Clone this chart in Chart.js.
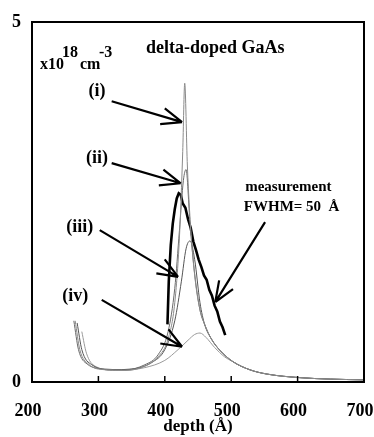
<!DOCTYPE html>
<html lang="en">
<head>
  <meta charset="UTF-8" />
  <title>delta-doped GaAs</title>
  <script src="https://cdn.jsdelivr.net/npm/chart.js"></script>
  <style>
    body { margin: 0; background: #fff; }
    canvas { display: block; }
  </style>
</head>
<body>
  <canvas id="profile" width="374" height="437"></canvas>

  <script>
    // depth in Angstrom, concentration in 1e18 cm^-3
    const depthI  = [265, 272, 285, 310, 340, 370, 390, 405, 415, 422, 427, 430, 434, 440, 446, 453, 460, 470, 483, 503, 528, 554, 604, 650, 700];
    const concI   = [0.85, 0.45, 0.25, 0.17, 0.16, 0.22, 0.35, 0.6, 1.1, 2.0, 3.2, 4.15, 3.0, 2.0, 1.4, 1.0, 0.8, 0.6, 0.44, 0.28, 0.17, 0.11, 0.06, 0.04, 0.03];

    const depthII = [263, 270, 283, 310, 340, 370, 390, 405, 415, 422, 428, 432, 438, 445, 453, 460, 470, 483, 503, 528, 554, 604, 650, 700];
    const concII  = [0.85, 0.45, 0.25, 0.18, 0.17, 0.24, 0.38, 0.7, 1.3, 2.1, 2.8, 2.95, 2.2, 1.5, 1.0, 0.8, 0.6, 0.44, 0.28, 0.17, 0.11, 0.06, 0.04, 0.03];

    const depthIII = [268, 275, 290, 320, 350, 380, 400, 415, 425, 432, 438, 445, 453, 460, 470, 483, 503, 528, 554, 604, 650, 700];
    const concIII  = [0.82, 0.45, 0.24, 0.17, 0.18, 0.27, 0.45, 0.85, 1.4, 1.85, 1.96, 1.7, 1.1, 0.8, 0.6, 0.44, 0.28, 0.17, 0.11, 0.06, 0.04, 0.03];

    const depthIV = [275, 282, 295, 330, 370, 400, 420, 435, 445, 453, 462, 475, 490, 503, 528, 554, 604, 650, 700];
    const concIV  = [0.7, 0.4, 0.22, 0.16, 0.2, 0.3, 0.45, 0.58, 0.66, 0.68, 0.62, 0.48, 0.35, 0.28, 0.17, 0.11, 0.06, 0.04, 0.03];

    const depthMeas = [404, 406, 409, 412, 415, 418, 421, 424, 427, 431, 435, 439, 443, 447, 451, 455, 459, 463, 467, 471, 475, 479, 483, 487, 491];
    const concMeas  = [0.8, 1.4, 1.9, 2.2, 2.4, 2.55, 2.62, 2.6, 2.48, 2.42, 2.26, 2.14, 1.95, 1.83, 1.7, 1.6, 1.48, 1.42, 1.28, 1.2, 1.06, 0.98, 0.84, 0.76, 0.65];

    const xTicks = [200, 300, 400, 500, 600, 700];
    const yTicks = [0, 5];

    const serif = '"Liberation Serif", "Times New Roman", serif';

    // labels and arrows, placed in data units
    const labels = [
      { text: '(i)',   x: 298, y: 4.03, align: 'center' },
      { text: '(ii)',  x: 298, y: 3.11, align: 'center' },
      { text: '(iii)', x: 272, y: 2.15, align: 'center' },
      { text: '(iv)',  x: 265, y: 1.19, align: 'center' },
      { text: 'measurement', x: 521, y: 2.71, align: 'left', size: 15 },
      { text: 'FWHM= 50  \u00C5', x: 519, y: 2.43, align: 'left', size: 15 },
      { text: 'delta-doped GaAs', x: 476, y: 4.64, align: 'center', size: 18 }
    ];
    const arrows = [
      [320, 3.90, 426, 3.61],
      [320, 3.04, 424, 2.76],
      [302, 2.11, 420, 1.46],
      [305, 1.14, 426, 0.49],
      [551, 2.22, 476, 1.11]
    ];

    const pts = (xs, ys) => xs.map((x, i) => ({ x: x, y: ys[i] }));

    const decor = {
      id: 'decor',
      afterDatasetsDraw(chart) {
        const { ctx, chartArea: a, scales: { x, y } } = chart;
        ctx.save();
        ctx.strokeStyle = '#000';
        ctx.lineWidth = 2;
        ctx.strokeRect(a.left, a.top, a.right - a.left, a.bottom - a.top);

        // inward ticks on the depth axis
        ctx.lineWidth = 1.5;
        xTicks.slice(1, -1).forEach(v => {
          const px = x.getPixelForValue(v);
          ctx.beginPath();
          ctx.moveTo(px, a.bottom);
          ctx.lineTo(px, a.bottom - 6);
          ctx.stroke();
        });

        ctx.fillStyle = '#000';
        ctx.textBaseline = 'middle';
        labels.forEach(l => {
          ctx.font = 'bold ' + (l.size || 18) + 'px ' + serif;
          ctx.textAlign = l.align;
          ctx.fillText(l.text, x.getPixelForValue(l.x), y.getPixelForValue(l.y));
        });

        // unit label x10^18 cm^-3
        ctx.textAlign = 'left';
        ctx.textBaseline = 'alphabetic';
        ctx.font = 'bold 16px ' + serif;
        ctx.fillText('x10', 40, 69);
        ctx.fillText('cm', 80, 69);
        ctx.fillText('18', 62, 57);
        ctx.fillText('-3', 99, 57);

        ctx.lineWidth = 2.2;
        arrows.forEach(([x0, y0, x1, y1]) => {
          const sx = x.getPixelForValue(x0), sy = y.getPixelForValue(y0);
          const ex = x.getPixelForValue(x1), ey = y.getPixelForValue(y1);
          const ang = Math.atan2(ey - sy, ex - sx);
          ctx.beginPath();
          ctx.moveTo(sx, sy);
          ctx.lineTo(ex, ey);
          [-0.38, 0.38].forEach(d => {
            ctx.moveTo(ex, ey);
            ctx.lineTo(ex - 22 * Math.cos(ang + d), ey - 22 * Math.sin(ang + d));
          });
          ctx.stroke();
        });
        ctx.restore();
      }
    };

    const thin = (data, color) => ({
      data: data,
      borderColor: color,
      borderWidth: 1,
      pointRadius: 0,
      cubicInterpolationMode: 'monotone',
      fill: false
    });

    new Chart(document.getElementById('profile'), {
      type: 'line',
      data: {
        datasets: [
          thin(pts(depthI, concI), '#8a8a8a'),
          thin(pts(depthII, concII), '#6a6a6a'),
          thin(pts(depthIII, concIII), '#555'),
          thin(pts(depthIV, concIV), '#9a9a9a'),
          {
            data: pts(depthMeas, concMeas),
            borderColor: '#000',
            borderWidth: 2.6,
            pointRadius: 0,
            tension: 0,
            fill: false
          }
        ]
      },
      options: {
        responsive: false,
        animation: false,
        layout: { padding: { top: 22, right: 10, left: 0, bottom: 0 } },
        plugins: { legend: { display: false }, tooltip: { enabled: false } },
        scales: {
          x: {
            type: 'linear',
            min: 200, max: 700,
            afterBuildTicks: s => { s.ticks = xTicks.map(v => ({ value: v })); },
            afterFit: s => { s.height = 55; s.paddingLeft = 0; s.paddingRight = 0; },
            grid: { display: false, drawTicks: false },
            border: { display: false },
            ticks: { color: '#000', padding: 19, labelOffset: -4, font: { family: serif, size: 18, weight: 'bold' } },
            title: {
              display: true, text: 'depth (\u00C5)', color: '#000', padding: 0,
              font: { family: serif, size: 17, weight: 'bold' }
            }
          },
          y: {
            min: 0, max: 5,
            afterBuildTicks: s => { s.ticks = yTicks.map(v => ({ value: v })); },
            afterFit: s => { s.width = 32; s.paddingTop = 0; s.paddingBottom = 0; },
            grid: { display: false, drawTicks: false },
            border: { display: false },
            ticks: { color: '#000', padding: 11, font: { family: serif, size: 18, weight: 'bold' } }
          }
        }
      },
      plugins: [decor]
    });
  </script>
</body>
</html>
